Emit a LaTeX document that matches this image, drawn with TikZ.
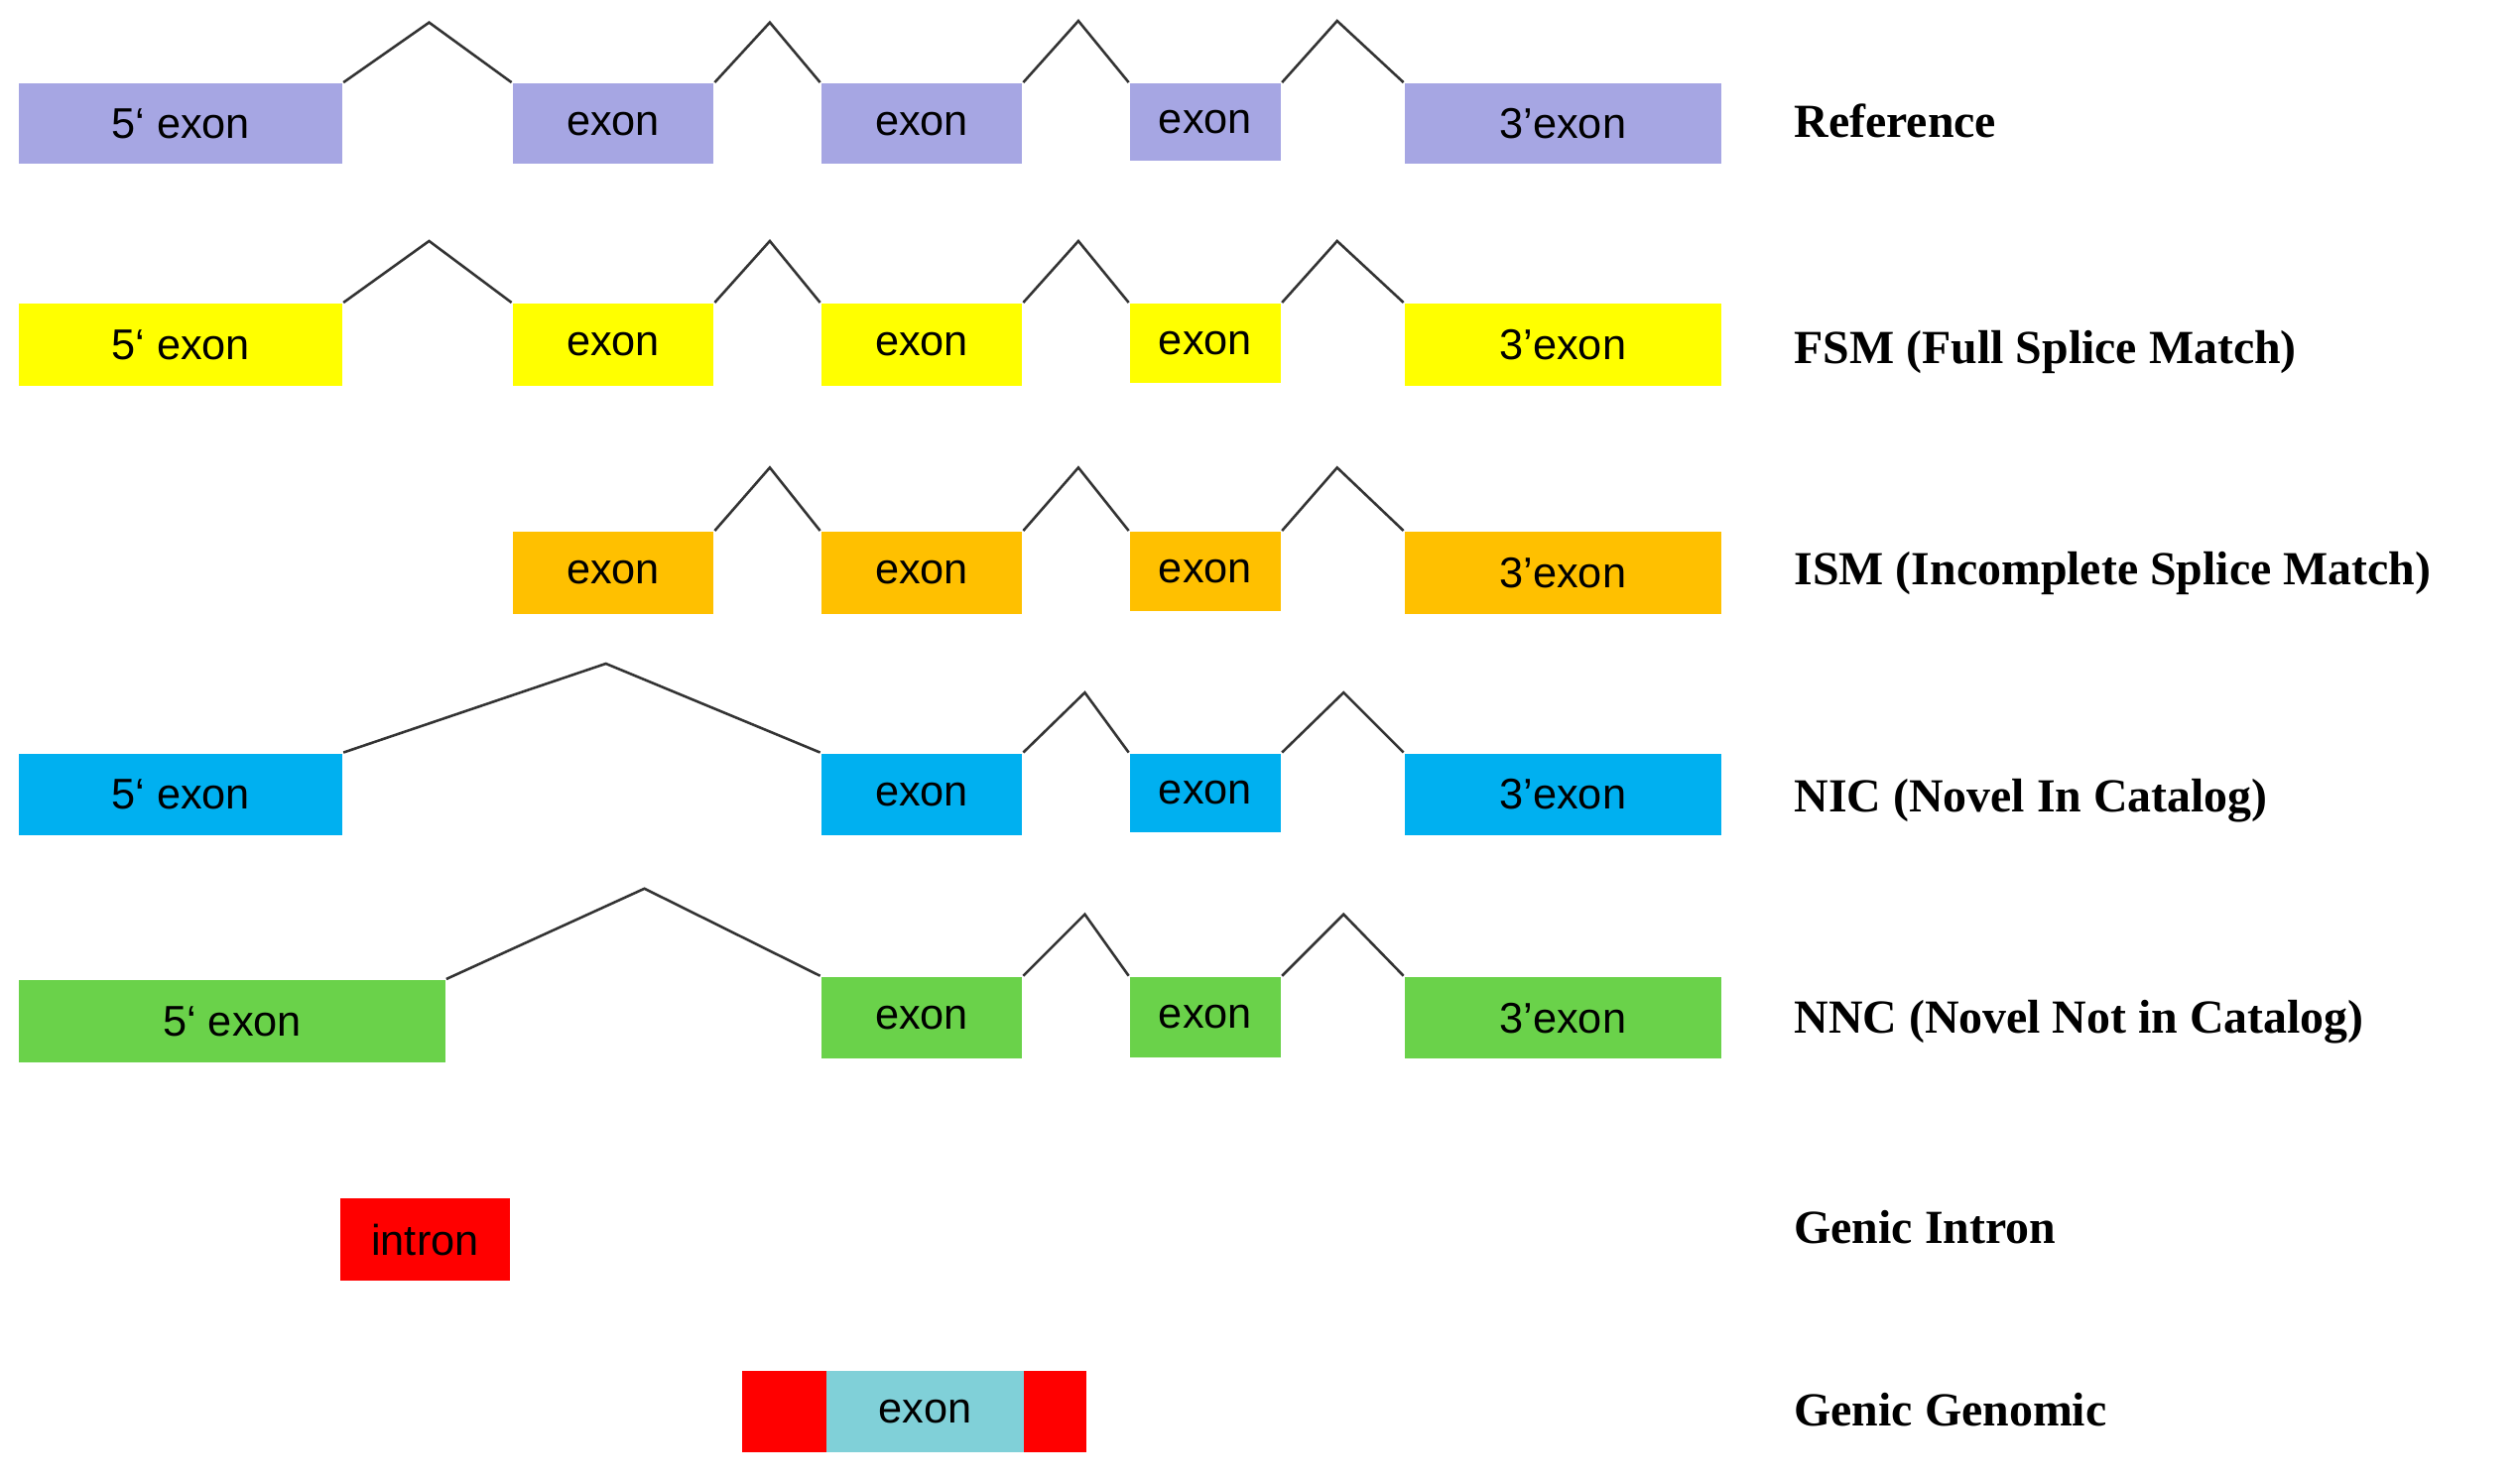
\documentclass[tikz,border=0pt]{standalone}
\usepackage{fontspec}
\setmainfont{Liberation Sans}
\newfontfamily\tnr{Liberation Serif}
\definecolor{cref}{HTML}{A6A6E3}
\definecolor{cfsm}{HTML}{FFFF00}
\definecolor{cism}{HTML}{FFC000}
\definecolor{cnic}{HTML}{00B0F0}
\definecolor{cnnc}{HTML}{6AD24A}
\definecolor{cred}{HTML}{FF0000}
\definecolor{cteal}{HTML}{80D0D8}
\newcommand{\ex}[7]{\node[box,fill=#6,minimum width={(#4-#2)*0.01cm},minimum height={(#5-#3)*0.01cm}] (#1) at ({(#2+#4)/2},{(#3+#5)/2}) {#7};}
\begin{document}
\begin{tikzpicture}[x=0.01cm,y=-0.01cm,
  box/.style={draw=none,inner sep=0pt,font=\fontsize{7.6}{9}\selectfont},
  lab/.style={anchor=west,font=\tnr\bfseries\fontsize{8.4}{10}\selectfont},
  intr/.style={draw=black!80,line width=0.45pt}]
\useasboundingbox (0,0) rectangle (1568,922);
% Reference
\ex{a1}{12}{52}{213}{102}{cref}{5‘ exon}
\ex{a2}{319}{52}{444}{102}{cref}{exon}
\ex{a3}{511}{52}{636}{102}{cref}{exon}
\ex{a4}{703}{52}{797}{100}{cref}{exon}
\ex{a5}{874}{52}{1071}{102}{cref}{3’exon}
\coordinate (ap1) at (267,14);\coordinate (ap2) at (479,14);
\coordinate (ap3) at (671,13);\coordinate (ap4) at (832,13);
\draw[intr] (a1.north east)--(ap1)--(a2.north west) (a2.north east)--(ap2)--(a3.north west)
 (a3.north east)--(ap3)--(a4.north west) (a4.north east)--(ap4)--(a5.north west);
\node[lab] (l1) at (1104,75) {Reference};
% FSM
\ex{b1}{12}{189}{213}{240}{cfsm}{5‘ exon}
\ex{b2}{319}{189}{444}{240}{cfsm}{exon}
\ex{b3}{511}{189}{636}{240}{cfsm}{exon}
\ex{b4}{703}{189}{797}{238}{cfsm}{exon}
\ex{b5}{874}{189}{1071}{240}{cfsm}{3’exon}
\coordinate (bp1) at (267,150);\coordinate (bp2) at (479,150);
\coordinate (bp3) at (671,150);\coordinate (bp4) at (832,150);
\draw[intr] (b1.north east)--(bp1)--(b2.north west) (b2.north east)--(bp2)--(b3.north west)
 (b3.north east)--(bp3)--(b4.north west) (b4.north east)--(bp4)--(b5.north west);
\node[lab] (l2) at (1104,219) {FSM (Full Splice Match)};
% ISM
\ex{c2}{319}{331}{444}{382}{cism}{exon}
\ex{c3}{511}{331}{636}{382}{cism}{exon}
\ex{c4}{703}{331}{797}{380}{cism}{exon}
\ex{c5}{874}{331}{1071}{382}{cism}{3’exon}
\coordinate (cp2) at (479,291);\coordinate (cp3) at (671,291);\coordinate (cp4) at (832,291);
\draw[intr] (c2.north east)--(cp2)--(c3.north west)
 (c3.north east)--(cp3)--(c4.north west) (c4.north east)--(cp4)--(c5.north west);
\node[lab] (l3) at (1104,357) {ISM (Incomplete Splice Match)};
% NIC
\ex{d1}{12}{469}{213}{520}{cnic}{5‘ exon}
\ex{d3}{511}{469}{636}{520}{cnic}{exon}
\ex{d4}{703}{469}{797}{518}{cnic}{exon}
\ex{d5}{874}{469}{1071}{520}{cnic}{3’exon}
\coordinate (dp1) at (377,413);\coordinate (dp3) at (675,431);\coordinate (dp4) at (836,431);
\draw[intr] (d1.north east)--(dp1)--(d3.north west)
 (d3.north east)--(dp3)--(d4.north west) (d4.north east)--(dp4)--(d5.north west);
\node[lab] (l4) at (1104,498) {NIC (Novel In Catalog)};
% NNC
\ex{e1}{12}{610}{277}{661}{cnnc}{5‘ exon}
\ex{e3}{511}{608}{636}{659}{cnnc}{exon}
\ex{e4}{703}{608}{797}{658}{cnnc}{exon}
\ex{e5}{874}{608}{1071}{659}{cnnc}{3’exon}
\coordinate (ep1) at (401,553);\coordinate (ep3) at (675,569);\coordinate (ep4) at (836,569);
\draw[intr] (e1.north east)--(ep1)--(e3.north west)
 (e3.north east)--(ep3)--(e4.north west) (e4.north east)--(ep4)--(e5.north west);
\node[lab] (l5) at (1104,636) {NNC (Novel Not in Catalog)};
% Genic intron
\ex{f1}{212}{746}{317}{797}{cred}{intron}
\node[lab] (l6) at (1104,764) {Genic Intron};
% Genic genomic
\ex{g1}{462}{853}{514}{904}{cred}{}
\ex{g2}{514}{853}{637}{904}{cteal}{exon}
\ex{g3}{637}{853}{676}{904}{cred}{}
\node[lab] (l7) at (1104,877) {Genic Genomic};
\end{tikzpicture}
\end{document}
